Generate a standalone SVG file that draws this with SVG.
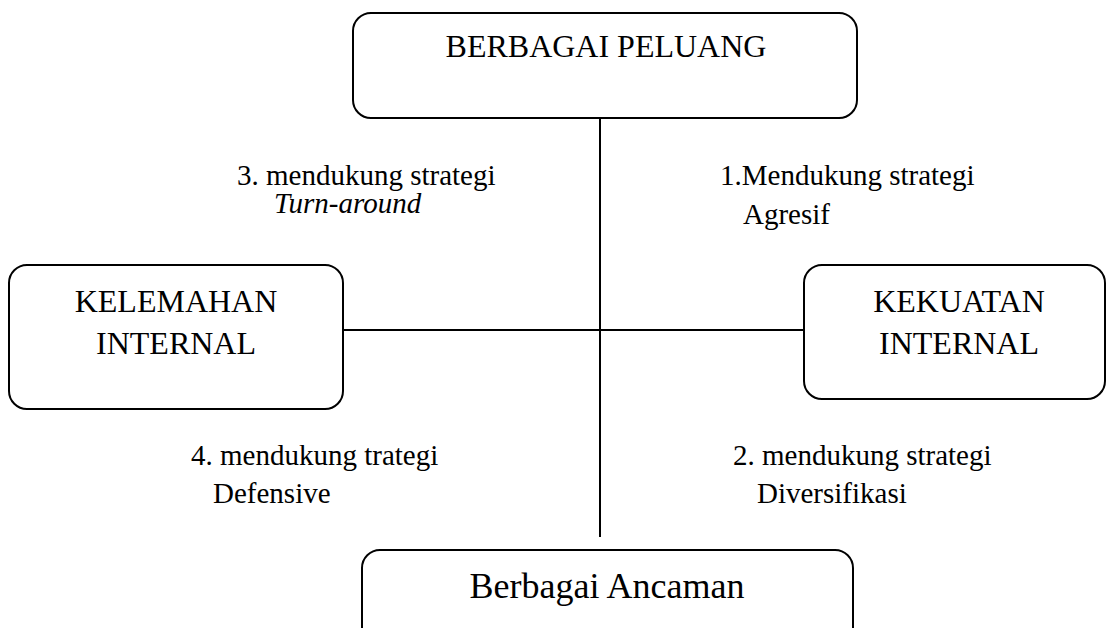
<svg xmlns="http://www.w3.org/2000/svg" width="1108" height="628" viewBox="0 0 1108 628">
<style>
.box{fill:#fff;stroke:#000;stroke-width:2}
.ln{stroke:#000;stroke-width:2;fill:none}
.t{font-family:"Liberation Serif","Times New Roman",serif;fill:#000}
.big{font-size:32px}
.lab{font-size:29px}
</style>
<rect width="1108" height="628" fill="#fff"/>
<g id="connectors">
<line class="ln" x1="600" y1="118" x2="600" y2="537"/>
<line class="ln" x1="343" y1="330" x2="804" y2="330"/>
</g>
<g id="peluang">
<rect class="box" x="353" y="13" width="504" height="105" rx="18"/>
<text class="t big" x="606" y="57" text-anchor="middle">BERBAGAI PELUANG</text>
</g>
<g id="kelemahan">
<rect class="box" x="9" y="265" width="334" height="144" rx="18"/>
<text class="t big" x="176" y="312" text-anchor="middle">KELEMAHAN</text>
<text class="t big" x="176" y="354" text-anchor="middle">INTERNAL</text>
</g>
<g id="kekuatan">
<rect class="box" x="804" y="265" width="301" height="134" rx="18"/>
<text class="t big" x="959" y="312" text-anchor="middle">KEKUATAN</text>
<text class="t big" x="959" y="354" text-anchor="middle">INTERNAL</text>
</g>
<g id="ancaman">
<rect class="box" x="362" y="550" width="491" height="120" rx="18"/>
<text class="t" style="font-size:36px" x="607" y="598" text-anchor="middle">Berbagai Ancaman</text>
</g>
<g id="labels">
<text class="t lab" x="237" y="185">3. mendukung strategi</text>
<text class="t lab" x="274" y="213" font-style="italic">Turn-around</text>
<text class="t lab" x="720" y="185">1.Mendukung strategi</text>
<text class="t lab" x="743" y="224">Agresif</text>
<text class="t lab" x="191" y="465">4. mendukung trategi</text>
<text class="t lab" x="213" y="503">Defensive</text>
<text class="t lab" x="733" y="465">2. mendukung strategi</text>
<text class="t lab" x="757" y="503">Diversifikasi</text>
</g>
</svg>
